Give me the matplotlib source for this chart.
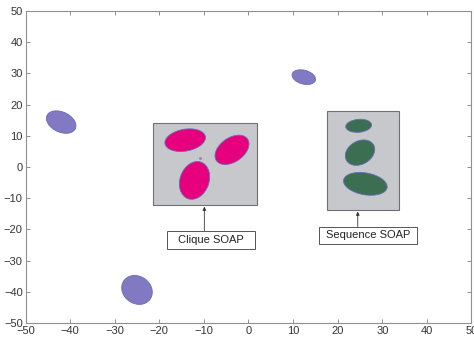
import matplotlib.pyplot as plt
from matplotlib.patches import Ellipse, Rectangle
from matplotlib import transforms

plt.rcParams['font.family'] = ['Liberation Sans', 'DejaVu Sans']

# clusters: centre x, centre y, major / minor axis (x units), angle (deg)
purple_x = [-42.0, 12.4, -25.0]
purple_y = [14.4, 28.8, -39.4]
purple_w = [7.0, 5.4, 7.2]
purple_h = [4.5, 3.1, 6.1]
purple_a = [-25, -15, -35]

pink_x = [-14.2, -3.7, -12.1]
pink_y = [8.6, 5.5, -4.3]
pink_w = [9.2, 8.5, 8.7]
pink_h = [4.9, 5.4, 6.5]
pink_a = [10, 35, 70]

green_x = [24.7, 25.0, 26.2]
green_y = [13.2, 4.6, -5.4]
green_w = [5.8, 7.0, 9.9]
green_h = [2.9, 5.2, 4.9]
green_a = [5, 30, -10]

# inset boxes: (x0, y0, x1, y1)
clique_box = (-21.5, -12.2, 1.8, 14.2)
seq_box = (17.7, -13.8, 33.8, 18.0)
labels = ["Clique SOAP", "Sequence SOAP"]
label_boxes = [(-18.3, -26.4, 1.5, -20.4), (15.9, -24.7, 37.7, -19.1)]
arrow_x = [-9.9, 24.5]

ticks = [-50, -40, -30, -20, -10, 0, 10, 20, 30, 40, 50]

fig = plt.figure(figsize=(4.74, 3.37), dpi=100)
ax = fig.add_axes([0.0538, 0.0415, 0.9409, 0.9259])
ax.set_xlim(-50, 50)
ax.set_ylim(-50, 50)
fig.canvas.draw()

# pixels per x unit, used so ellipses keep their look on unequal axes
px = ax.transData.transform((1, 0))[0] - ax.transData.transform((0, 0))[0]


def blob(x, y, w, h, a, color, z):
    tr = transforms.Affine2D() + transforms.ScaledTranslation(x, y, ax.transData)
    e = Ellipse((0, 0), w * px, h * px, angle=a, transform=tr,
                facecolor=color, edgecolor='#6a6ab8', lw=0.6, zorder=z)
    ax.add_artist(e)


for x0, y0, x1, y1 in [clique_box, seq_box]:
    ax.add_patch(Rectangle((x0, y0), x1 - x0, y1 - y0, facecolor='#c7c8cb',
                           edgecolor='#707070', lw=0.8, zorder=2))

for i in range(3):
    blob(purple_x[i], purple_y[i], purple_w[i], purple_h[i], purple_a[i], '#8179c2', 3)
    blob(pink_x[i], pink_y[i], pink_w[i], pink_h[i], pink_a[i], '#e6007e', 3)
    blob(green_x[i], green_y[i], green_w[i], green_h[i], green_a[i], '#3c6e52', 3)

ax.plot([-10.9], [3.0], 'o', ms=1.2, color='#9090b0', zorder=4)

for lab, (x0, y0, x1, y1), xa, box in zip(labels, label_boxes, arrow_x, [clique_box, seq_box]):
    ax.add_patch(Rectangle((x0, y0), x1 - x0, y1 - y0, facecolor='white',
                           edgecolor='#555555', lw=0.7, zorder=2))
    ax.text((x0 + x1) / 2, (y0 + y1) / 2, lab, ha='center', va='center',
            fontsize=8, color='#222222', zorder=3)
    ax.annotate('', xy=(xa, box[1] - 0.5), xytext=(xa, y1),
                arrowprops=dict(arrowstyle='-|>', color='#333333', lw=0.6,
                                mutation_scale=5, shrinkA=0, shrinkB=0))

ax.set_xticks(ticks)
ax.set_yticks(ticks)
ax.tick_params(direction='in', length=3, width=0.6, color='#808080',
               top=True, right=True, labelsize=8, pad=2, labelcolor='#333333')
for s in ax.spines.values():
    s.set_color('#909090')
    s.set_linewidth(0.8)

plt.savefig('out.png', dpi=100)
